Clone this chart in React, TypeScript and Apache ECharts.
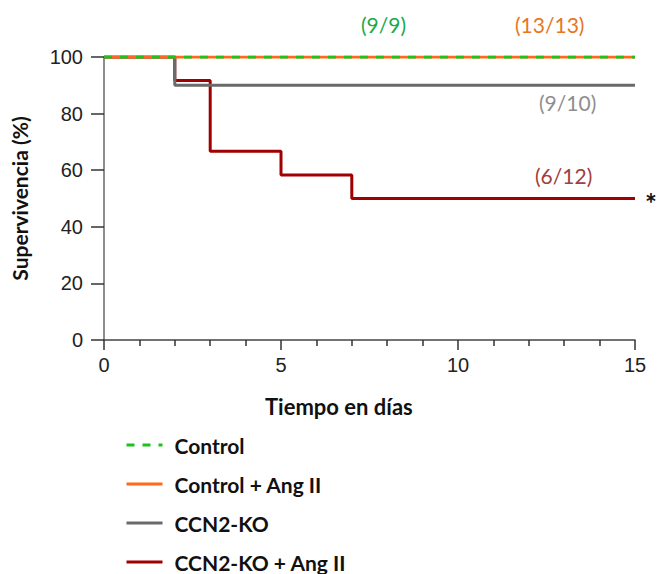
import React, { useEffect, useRef } from "react";
import * as echarts from "echarts";

const seriesNames = ["Control", "Control + Ang II", "CCN2-KO", "CCN2-KO + Ang II"];
const controlData: [number, number][] = [[0, 100], [15, 100]];
const controlAngData: [number, number][] = [[0, 100], [15, 100]];
const koData: [number, number][] = [[0, 100], [2, 90], [15, 90]];
const koAngData: [number, number][] = [[0, 100], [2, 91.67], [3, 66.67], [5, 58.33], [7, 50], [15, 50]];
const colors = ["#1ec21e", "#ff6a1a", "#6a6a6a", "#a00000"];
const annotations = ["(9/9)", "(13/13)", "(9/10)", "(6/12)"];
const annotationColors = ["#1aaa4a", "#e8761e", "#8e8e8e", "#a0403f"];

export default function App() {
  const ref = useRef<HTMLDivElement>(null);
  useEffect(() => {
    const chart = echarts.init(ref.current!, null, { renderer: "svg" });
    const calibri = "Lato, 'Open Sans', sans-serif";
    const arial = "'Liberation Sans', Arial, sans-serif";
    chart.setOption({
      animation: false,
      grid: { left: 104, right: 25, top: 57, bottom: 234 },
      legend: {
        orient: "vertical",
        left: 125,
        top: 433,
        height: 220,
        padding: 0,
        itemWidth: 36,
        itemHeight: 24,
        itemGap: 15,
        data: seriesNames,
        itemStyle: { opacity: 0 },
        lineStyle: { width: 3 },
        textStyle: { fontFamily: calibri, fontWeight: "bold", fontSize: 21, lineHeight: 24, color: "#111", padding: [0, 0, 0, 7] },
      },
      xAxis: {
        type: "value",
        min: 0,
        max: 15,
        interval: 5,
        axisLine: { lineStyle: { color: "#444", width: 1.5 } },
        axisTick: { length: 10, lineStyle: { color: "#333", width: 1.5 } },
        minorTick: { show: true, splitNumber: 5, length: 6, lineStyle: { color: "#333", width: 1.5 } },
        axisLabel: { fontFamily: arial, fontSize: 20, color: "#222", margin: 15 },
        splitLine: { show: false },
      },
      yAxis: {
        type: "value",
        min: 0,
        max: 100,
        interval: 20,
        name: "Supervivencia (%)",
        nameLocation: "middle",
        nameGap: 74,
        nameTextStyle: { fontFamily: calibri, fontWeight: "bold", fontSize: 21, color: "#111" },
        axisLine: { show: true, lineStyle: { color: "#666", width: 1.5 } },
        axisTick: { show: true, length: 13, lineStyle: { color: "#333", width: 1.5 } },
        axisLabel: { fontFamily: arial, fontSize: 20, color: "#222", margin: 21 },
        splitLine: { show: false },
      },
      graphic: [
        { type: "text", left: 265, top: 395, style: { text: "Tiempo en días", font: `bold 22px ${calibri}`, fill: "#111" } },
        { type: "text", left: 361, top: 14, style: { text: annotations[0], font: `21px ${calibri}`, fill: annotationColors[0] } },
        { type: "text", left: 515, top: 14, style: { text: annotations[1], font: `21px ${calibri}`, fill: annotationColors[1] } },
        { type: "text", left: 539, top: 92, style: { text: annotations[2], font: `21px ${calibri}`, fill: annotationColors[2] } },
        { type: "text", left: 535, top: 165, style: { text: annotations[3], font: `21px ${calibri}`, fill: annotationColors[3] } },
        { type: "text", left: 645, top: 189, style: { text: "*", font: `bold 28px ${calibri}`, fill: "#111" } },
      ],
      series: [
        {
          name: seriesNames[0],
          type: "line",
          step: "end",
          data: controlData,
          symbol: "none",
          z: 5,
          color: colors[0],
          lineStyle: { color: colors[0], width: 3, type: [8, 8] },
        },
        {
          name: seriesNames[1],
          type: "line",
          step: "end",
          data: controlAngData,
          symbol: "none",
          z: 4,
          color: colors[1],
          lineStyle: { color: colors[1], width: 3 },
        },
        {
          name: seriesNames[2],
          type: "line",
          step: "end",
          data: koData,
          symbol: "none",
          z: 3,
          color: colors[2],
          lineStyle: { color: colors[2], width: 3 },
        },
        {
          name: seriesNames[3],
          type: "line",
          step: "end",
          data: koAngData,
          symbol: "none",
          z: 2,
          color: colors[3],
          lineStyle: { color: colors[3], width: 3 },
        },
      ],
    });
    return () => chart.dispose();
  }, []);
  return <div ref={ref} style={{ width: 660, height: 574, position: "absolute", left: 0, top: 0 }} />;
}
